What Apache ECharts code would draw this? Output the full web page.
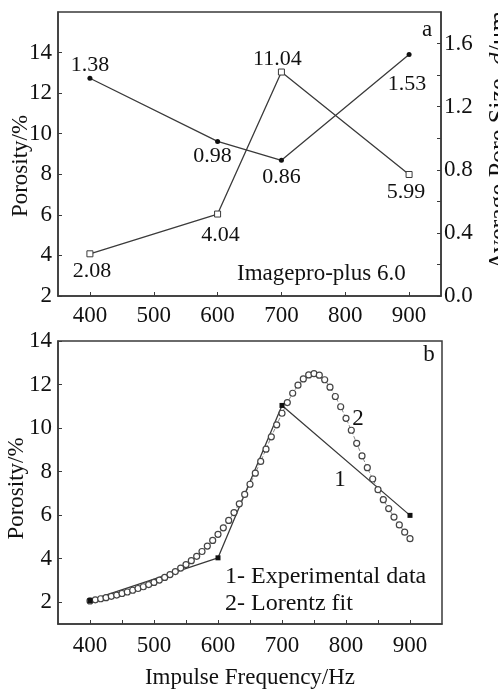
<!DOCTYPE html>
<html>
<head>
<meta charset="utf-8">
<script src="https://cdn.jsdelivr.net/npm/echarts@6/dist/echarts.min.js"></script>
<style>html,body{margin:0;padding:0;background:#fff;}#c{width:498px;height:691px;}</style>
</head>
<body>
<div id="c"></div>
<script>
// ---- data (panel a) ----
const topFreq = [400, 600, 700, 900];
const poreSize = [1.38, 0.98, 0.86, 1.53];
const topPorosity = [2.08, 4.04, 11.04, 5.99];
const topPorosityTickValues = [0, 2, 4, 6, 8, 10, 12];
const topPorosityTickLabels = ['2', '4', '6', '8', '10', '12', '14'];
const poreTickValues = [0, 0.4, 0.8, 1.2, 1.6];
const poreMinorTicks = [0, 0.2, 0.4, 0.6, 0.8, 1.0, 1.2, 1.4, 1.6];
const freqTicks = [400, 500, 600, 700, 800, 900];
// ---- data (panel b) ----
const expFreq = [400, 600, 700, 900];
const expPorosity = [2.08, 4.04, 11.04, 5.99];
const fitFreq = [400, 408.3, 416.7, 425, 433.3, 441.7, 450, 458.3, 466.7, 475, 483.3, 491.7, 500, 508.3, 516.7, 525, 533.3, 541.7, 550, 558.3, 566.7, 575, 583.3, 591.7, 600, 608.3, 616.7, 625, 633.3, 641.7, 650, 658.3, 666.7, 675, 683.3, 691.7, 700, 708.3, 716.7, 725, 733.3, 741.7, 750, 758.3, 766.7, 775, 783.3, 791.7, 800, 808.3, 816.7, 825, 833.3, 841.7, 850, 858.3, 866.7, 875, 883.3, 891.7, 900];
const fitPorosity = [2.06, 2.11, 2.16, 2.21, 2.27, 2.33, 2.40, 2.47, 2.55, 2.63, 2.71, 2.81, 2.91, 3.02, 3.14, 3.27, 3.41, 3.57, 3.73, 3.91, 4.11, 4.33, 4.58, 4.84, 5.12, 5.42, 5.76, 6.12, 6.52, 6.95, 7.42, 7.93, 8.47, 9.03, 9.60, 10.15, 10.68, 11.17, 11.60, 11.97, 12.26, 12.44, 12.50, 12.43, 12.22, 11.88, 11.45, 10.98, 10.45, 9.90, 9.30, 8.72, 8.18, 7.66, 7.17, 6.71, 6.30, 5.91, 5.55, 5.22, 4.92];
const bottomPorosityTicks = [2, 4, 6, 8, 10, 12, 14];
const bottomFreqMinorTicks = [400, 450, 500, 550, 600, 650, 700, 750, 800, 850, 900];

// ---- styles ----
const FONT = 'Liberation Serif';
const TXT = '#111';
const LINE = '#3a3a3a';
const FS = 23;
const poreLabelStyle = [
  {position: 'top', distance: 0, offset: [0, 0]},
  {position: 'bottom', distance: 1, offset: [-5, 0]},
  {position: 'bottom', distance: 3, offset: [0, 0]},
  {position: 'bottom', distance: 16, offset: [-2, 0]}
];
const porLabelStyle = [
  {position: 'bottom', distance: 3, offset: [2, 0]},
  {position: 'bottom', distance: 7, offset: [3, 0]},
  {position: 'top', distance: -2, offset: [-4, 0]},
  {position: 'bottom', distance: 3, offset: [-3, 0]}
];

function lbl(s) {
  return {show: true, position: s.position, distance: s.distance, offset: s.offset,
    fontFamily: FONT, fontSize: 22, color: TXT,
    formatter: p => p.value[1].toFixed(2)};
}

const axisCommon = {
  axisLine: {show: true, lineStyle: {color: LINE, width: 1.5}},
  splitLine: {show: false},
  nameMoveOverlap: false,
  axisLabel: {fontFamily: FONT, fontSize: FS, color: TXT},
  nameTextStyle: {fontFamily: FONT, fontSize: FS, color: TXT}
};

const chart = echarts.init(document.getElementById('c'), null, {renderer: 'canvas'});
chart.setOption({
  animation: false,
  backgroundColor: '#fff',
  grid: [
    {left: 58, top: 12, width: 383, height: 284, show: true, borderColor: LINE, borderWidth: 1.5, backgroundColor: 'transparent', containLabel: false, outerBoundsMode: 'none'},
    {left: 58, top: 341, width: 384, height: 283, show: true, borderColor: LINE, borderWidth: 1.5, backgroundColor: 'transparent', containLabel: false, outerBoundsMode: 'none'}
  ],
  xAxis: [
    Object.assign({}, axisCommon, {
      gridIndex: 0, type: 'value', min: 350, max: 950,
      axisTick: {show: true, inside: true, length: 4, lineStyle: {color: LINE}, customValues: freqTicks},
      axisLabel: Object.assign({}, axisCommon.axisLabel, {margin: 8, customValues: freqTicks})
    }),
    Object.assign({}, axisCommon, {
      gridIndex: 1, type: 'value', min: 350, max: 950,
      name: 'Impulse Frequency/Hz', nameLocation: 'middle', nameGap: 42,
      axisTick: {show: true, inside: true, length: 4, lineStyle: {color: LINE}, customValues: bottomFreqMinorTicks},
      axisLabel: Object.assign({}, axisCommon.axisLabel, {margin: 10, customValues: freqTicks})
    })
  ],
  yAxis: [
    Object.assign({}, axisCommon, {
      gridIndex: 0, type: 'value', min: 0, max: 14, position: 'left',
      name: 'Porosity/%', nameLocation: 'middle', nameGap: 26,
      nameTextStyle: Object.assign({}, axisCommon.nameTextStyle, {padding: [0, 24, 0, 0]}),
      axisTick: {show: true, inside: true, length: 4, lineStyle: {color: LINE}, customValues: topPorosityTickValues},
      axisLabel: Object.assign({}, axisCommon.axisLabel, {margin: 6, customValues: topPorosityTickValues,
        formatter: v => topPorosityTickLabels[topPorosityTickValues.indexOf(v)]})
    }),
    Object.assign({}, axisCommon, {
      gridIndex: 0, type: 'value', min: 0, max: 1.8, position: 'right',
      name: '{n|Average Pore Size, }{i|d}{n|/μm}', nameLocation: 'middle', nameGap: 45, nameRotate: 90,
      nameTextStyle: {fontFamily: FONT, fontSize: 26, color: TXT, padding: [0, 0, 0, 27],
        rich: {n: {fontFamily: FONT, fontSize: 26, color: TXT}, i: {fontFamily: FONT, fontSize: 26, color: TXT, fontStyle: 'italic'}}},
      axisTick: {show: true, inside: true, length: 4, lineStyle: {color: LINE}, customValues: poreMinorTicks},
      axisLabel: Object.assign({}, axisCommon.axisLabel, {margin: 3, customValues: poreTickValues,
        formatter: v => v.toFixed(1)})
    }),
    Object.assign({}, axisCommon, {
      gridIndex: 1, type: 'value', min: 1, max: 14,
      name: 'Porosity/%', nameLocation: 'middle', nameGap: 30,
      nameTextStyle: Object.assign({}, axisCommon.nameTextStyle, {padding: [0, 12, 0, 0]}),
      axisTick: {show: true, inside: true, length: 4, lineStyle: {color: LINE}, customValues: bottomPorosityTicks},
      axisLabel: Object.assign({}, axisCommon.axisLabel, {margin: 6, customValues: bottomPorosityTicks})
    })
  ],
  series: [
    {
      type: 'line', xAxisIndex: 0, yAxisIndex: 1,
      data: topFreq.map((f, i) => ({value: [f, poreSize[i]], label: lbl(poreLabelStyle[i])})),
      symbol: 'circle', symbolSize: 5,
      itemStyle: {color: '#111'},
      lineStyle: {color: LINE, width: 1.3}
    },
    {
      type: 'line', xAxisIndex: 0, yAxisIndex: 0,
      data: topFreq.map((f, i) => ({value: [f, topPorosity[i]], label: lbl(porLabelStyle[i])})),
      symbol: 'rect', symbolSize: 6,
      itemStyle: {color: '#fff', borderColor: LINE, borderWidth: 1},
      lineStyle: {color: LINE, width: 1.3}
    },
    {
      type: 'line', xAxisIndex: 1, yAxisIndex: 2,
      data: fitFreq.map((f, i) => [f, fitPorosity[i]]),
      symbol: 'circle', symbolSize: 6,
      itemStyle: {color: '#fff', borderColor: '#444', borderWidth: 1.2},
      lineStyle: {color: '#888', width: 1, type: 'dashed'}
    },
    {
      type: 'line', xAxisIndex: 1, yAxisIndex: 2,
      data: expFreq.map((f, i) => [f, expPorosity[i]]),
      symbol: 'rect', symbolSize: 5,
      itemStyle: {color: '#111'},
      lineStyle: {color: LINE, width: 1.3}
    }
  ],
  graphic: [
    {type: 'text', x: 427, y: 30, style: {text: 'a', font: FS + 'px "' + FONT + '"', fill: TXT, align: 'center', verticalAlign: 'middle'}},
    {type: 'text', x: 237, y: 274, style: {text: 'Imagepro-plus 6.0', font: FS + 'px "' + FONT + '"', fill: TXT, align: 'left', verticalAlign: 'middle'}},
    {type: 'text', x: 429, y: 355, style: {text: 'b', font: FS + 'px "' + FONT + '"', fill: TXT, align: 'center', verticalAlign: 'middle'}},
    {type: 'text', x: 340, y: 480, style: {text: '1', font: FS + 'px "' + FONT + '"', fill: TXT, align: 'center', verticalAlign: 'middle'}},
    {type: 'text', x: 358, y: 419, style: {text: '2', font: FS + 'px "' + FONT + '"', fill: TXT, align: 'center', verticalAlign: 'middle'}},
    {type: 'text', x: 225, y: 577, style: {text: '1- Experimental data', font: '24px "' + FONT + '"', fill: TXT, align: 'left', verticalAlign: 'middle'}},
    {type: 'text', x: 225, y: 604, style: {text: '2- Lorentz fit', font: '24px "' + FONT + '"', fill: TXT, align: 'left', verticalAlign: 'middle'}}
  ]
});
</script>
</body>
</html>
